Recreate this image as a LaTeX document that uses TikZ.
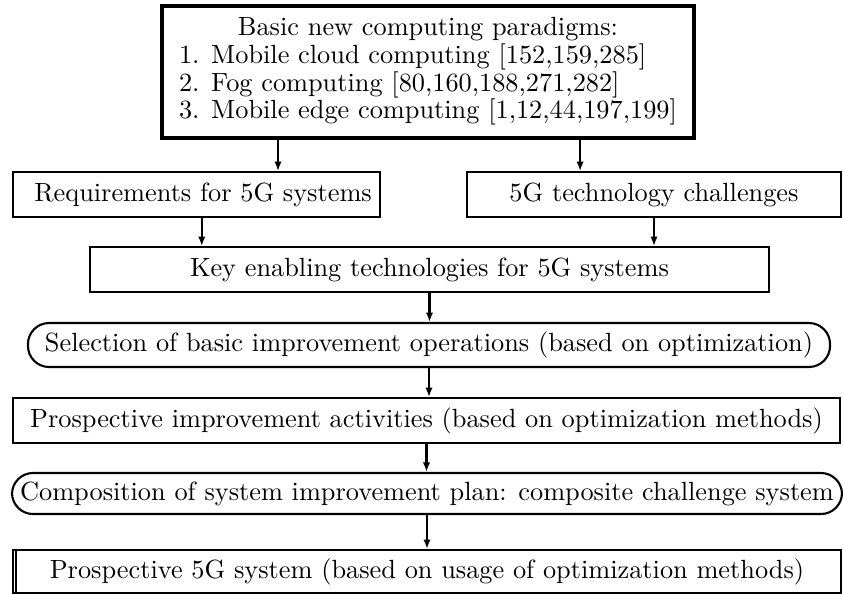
\documentclass[tikz,border=0pt]{standalone}
\usetikzlibrary{arrows.meta,positioning}

\begin{document}
\begin{tikzpicture}[x=0.38pt,y=-0.38pt,
  box/.style={draw,line width=0.8pt,inner xsep=1pt,inner ysep=0pt,minimum height=17pt},
  ovalbox/.style={box,rounded corners=8pt},
  arr/.style={line width=0.8pt,-{Latex[length=3.6pt,width=2.8pt]}}]

  \useasboundingbox (0,0) rectangle (843,595);

  \node[box,line width=1.6pt,minimum width=202pt,minimum height=50pt] (para) at (428,72)
    {\def\arraystretch{0.84}\begin{tabular}{@{}l@{}}
      \multicolumn{1}{@{}c@{}}{Basic new computing paradigms:}\\
      1. Mobile cloud computing [152,159,285]\\
      2. Fog computing [80,160,188,271,282]\\
      3. Mobile edge computing [1,12,44,197,199]
    \end{tabular}};
  \node[box,minimum width=139.5pt] (req) at (196.5,194.5) {\hspace*{5pt}Requirements for 5G systems};
  \node[box,minimum width=142pt] (chal) at (654,194.5) {5G technology challenges};
  \node[box,minimum width=258pt] (key) at (429.5,269.5) {Key enabling technologies for 5G systems};
  \node[ovalbox,minimum width=304.8pt,minimum height=16.7pt] (sel) at (429,345)
    {Selection of basic improvement operations (based on optimization)};
  \node[box,minimum width=314.3pt] (act) at (426.5,420.5)
    {Prospective improvement activities (based on optimization methods)};
  \node[ovalbox,minimum width=315.4pt,minimum height=15.6pt] (plan) at (427,493.5)
    {Composition of system improvement plan: composite challenge system};
  \node[box,minimum width=314.6pt,minimum height=16.3pt] (sys) at (427,571.5)
    {Prospective 5G system (based on usage of optimization methods)};

  % second line on the left of the last box
  \draw[line width=0.8pt] ([xshift=1.5pt]sys.north west) -- ([xshift=1.5pt]sys.south west);

  \draw[arr] ([xshift=-57pt]para.south) -- ([xshift=-57pt]para.south |- req.north);
  \draw[arr] ([xshift=57.8pt]para.south) -- ([xshift=57.8pt]para.south |- chal.north);
  \draw[arr] ([xshift=2pt]req.south) -- ([xshift=2pt]req.south |- key.north);
  \draw[arr] (chal.south) -- (chal.south |- key.north);
  \draw[arr] (key.south) -- (key.south |- sel.north);
  \draw[arr] (sel.south) -- (sel.south |- act.north);
  \draw[arr] (act.south) -- (act.south |- plan.north);
  \draw[arr] (plan.south) -- (plan.south |- sys.north);
\end{tikzpicture}
\end{document}
